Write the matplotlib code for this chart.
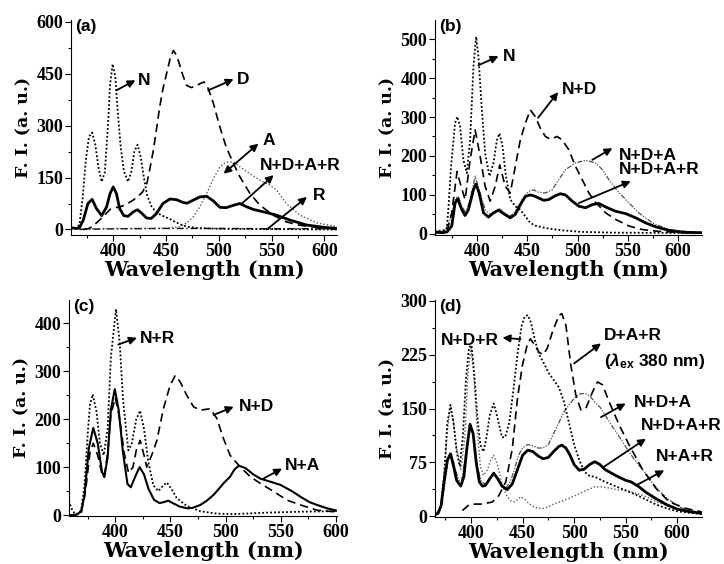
# Fluorescence spectra, four panels (a)-(d)
import numpy as np
import matplotlib
matplotlib.use('Agg')
import matplotlib.pyplot as plt
from matplotlib.ticker import MultipleLocator
from matplotlib.font_manager import FontProperties

# ---------------- data ----------------
# panel (a)
a_N_wl = [360, 365, 368, 371, 374, 377, 380, 383, 386, 389, 392, 395, 397, 399.5, 402, 404, 407, 410,
          414, 417, 420, 423, 426, 429, 432, 436, 440, 445, 450, 455, 460, 465, 470, 480, 500, 550, 612]
a_N = [4, 3, 15, 90, 200, 268, 280, 245, 180, 138, 165, 300, 420, 478, 440, 350, 240, 170,
       138, 165, 225, 245, 210, 150, 100, 68, 52, 42, 35, 28, 20, 13, 8, 4, 2, 1, 0]
a_D_wl = [372, 376, 380, 387, 392, 397, 402, 406, 412, 419, 425, 428, 432, 435, 438, 441, 444, 447,
          450.5, 454, 457, 460, 463, 466, 469.5, 474, 478, 482, 486, 490, 495, 501, 507, 514, 520,
          529.5, 539, 551.7, 564, 577, 593, 612]
a_D = [0, 2, 8, 27, 42, 58, 63, 65, 72, 85, 100, 109, 135, 180, 229, 290, 354, 405,
       450, 495, 517, 503, 475, 445, 416, 410, 413, 421, 426, 407, 363, 296, 238, 190, 152,
       104, 70, 41, 22, 12, 6, 3]
a_A_wl = [360, 440, 455, 463, 469.5, 476, 482, 488.5, 495, 501, 507, 514, 520, 529.5, 539, 548.5,
          555, 564, 577, 593, 612]
a_A = [2, 3, 5, 8, 19, 37, 65, 104, 147, 181, 195, 195, 181, 161, 142, 128, 113, 75, 41, 19, 8]
a_S_wl = [360, 365, 368, 371.6, 376, 380, 384, 389, 393.7, 397, 400, 403, 406, 410, 414, 419, 423,
          427, 431.6, 436, 441, 447, 453.7, 460, 466, 470, 476, 482, 488.5, 495, 501, 507, 514, 520,
          526, 532.7, 545, 555, 567.5, 583, 600, 612]
a_S = [5, 3, 5, 27, 75, 87, 61, 40, 65, 104, 123, 104, 61, 40, 38, 51, 57, 47, 33, 32, 46, 75, 88,
       86, 78, 76, 85, 94, 96, 82, 64, 63, 70, 75, 66, 58, 49, 41, 27, 13, 6, 3]
a_R_wl = [368, 380, 400, 450, 500, 550, 600, 612]
a_R = [0, 1, 2, 3, 3, 2, 2, 1]

# panel (b)
b_N_wl = [358, 361, 369.7, 371.5, 374, 378, 380.3, 383, 386.3, 389.7, 393, 396.3, 399, 401.3, 404.7,
          408, 412.3, 416.3, 419.7, 422.3, 425.3, 428.7, 433, 438, 443, 448, 453, 458, 468, 484.7,
          504.7, 538, 624]
b_N = [5, 7, 11, 70, 173, 284, 301, 276, 190, 156, 241, 429, 506, 455, 318, 207, 148, 182, 241, 258,
       224, 148, 88, 71, 62, 45, 28, 21, 15, 9, 5, 3, 2]
b_ND_wl = [358, 369.7, 374.7, 380, 384, 388, 393, 398, 403, 408, 413, 418, 422.5, 428, 433, 438, 443,
           448, 453, 458, 463, 468, 473, 479.7, 484.7, 491.3, 498, 504.7, 511.3, 518, 528, 538, 551.3,
           564.7, 578, 591, 624]
b_ND = [3, 3, 54, 160, 122, 88, 190, 267, 199, 122, 84, 122, 177, 122, 105, 173, 241, 284, 318, 301,
        271, 250, 243, 250, 241, 216, 173, 139, 105, 81, 54, 37, 20, 11, 7, 5, 2]
b_NDA_wl = [358, 368, 373, 378.7, 381.3, 384.7, 388.7, 393, 398, 403, 408, 413, 418, 422.3, 427.3,
            433, 438, 444.7, 451.3, 456.3, 461.3, 468, 474.7, 481.3, 488, 498, 508, 518, 524.7,
            531.3, 540, 548, 561, 574.7, 591, 618]
b_NDA = [3, 8, 37, 92, 96, 71, 54, 88, 148, 105, 62, 50, 54, 64, 54, 45, 58, 88, 109, 113, 107, 105,
         113, 139, 165, 182, 189, 182, 165, 139, 110, 88, 54, 28, 11, 4]
b_S_wl = [358, 365, 370, 374.7, 378, 380.7, 384.7, 388, 391.3, 396.3, 398.7, 402, 406.3, 411.3,
          416.3, 421.3, 426.3, 433, 438, 443, 448, 453, 458, 466.3, 471.3, 478, 483, 488, 494.7,
          501.3, 508, 514.7, 521.3, 528, 538, 548, 558, 568, 578, 591, 604.7, 624]
b_S = [5, 3, 5, 20, 79, 90, 62, 47, 62, 113, 128, 105, 54, 43, 54, 61, 52, 41, 50, 75, 96, 100, 96,
       86, 88, 98, 103, 100, 84, 71, 67, 75, 78, 69, 58, 52, 41, 28, 18, 9, 4, 3]

# panel (c)
c_NR_wl = [358, 360, 363, 366, 369, 372, 375, 377, 379.5, 383, 386, 389.5, 393, 396, 400.6, 404,
           407, 411.8, 415, 419, 422.5, 426, 430, 434.5, 439, 443.6, 446.7, 451, 455.8, 464.8, 477,
           492, 507, 537.6, 568, 598, 601]
c_NR = [30, 15, 3, 3, 10, 60, 170, 230, 252, 215, 150, 125, 180, 330, 430, 360, 240, 135, 150, 200,
        218, 180, 110, 62, 50, 62, 68, 54, 35, 19, 8, 3, 2, 5, 7, 8, 8]
c_ND_wl = [358, 365, 369, 373, 377, 380, 384, 388, 390, 393, 396, 400, 404, 408, 412, 416, 419,
           422.5, 426, 428.5, 433, 437.6, 443.6, 449.7, 454.2, 458.8, 464.8, 470.9, 477, 486, 492,
           498, 504, 513, 522.4, 531.5, 543.6, 555.8, 568, 583, 598, 601]
c_ND = [0, 0, 3, 50, 130, 150, 125, 85, 80, 130, 210, 245, 200, 130, 88, 100, 135, 156, 125, 100,
        125, 155, 222, 271, 291, 278, 250, 226, 219, 222, 202, 160, 125, 101, 80, 66, 49, 31, 21,
        10, 7, 6]
c_NA_wl = [358, 362, 366, 369, 372, 376, 380, 384, 388, 390, 393, 396, 399.5, 403, 407, 411, 414,
           418, 422, 426, 430, 435, 440, 444, 448, 452, 458, 465, 470, 477, 483, 489, 494, 498, 504,
           508, 512, 518, 525, 531.5, 540, 549.7, 560, 568, 576, 583, 592, 601]
c_NA = [0, 0, 2, 8, 40, 140, 182, 150, 90, 79, 120, 220, 263, 220, 130, 65, 58, 80, 100, 85, 55, 32,
        25, 27, 30, 25, 18, 14, 15, 21, 30, 42, 55, 66, 80, 95, 103, 98, 85, 76, 70, 63, 50, 38,
        27, 21, 14, 9]

# panel (d)
d_NDR_wl = [365, 368, 371, 374, 377, 380, 383, 386, 389, 392, 395, 398, 400.5, 403, 406, 409, 412,
            415, 418, 422, 426, 430, 433, 437, 441, 445, 449, 452, 455, 458, 462, 466, 470, 475,
            480, 485, 490, 495, 500, 505, 510, 515, 520, 530, 540, 550, 560, 570, 580, 590, 600,
            610, 624]
d_NDR = [2, 5, 15, 60, 130, 155, 130, 90, 70, 110, 190, 235, 238, 200, 140, 100, 90, 110, 140, 157,
         135, 110, 110, 130, 175, 225, 265, 278, 280, 270, 245, 225, 215, 200, 190, 180, 160, 130,
         100, 78, 62, 56, 55, 48, 42, 36, 30, 23, 16, 11, 7, 5, 3]
d_DAR_wl = [391.6, 398, 404, 411, 420.7, 427, 433.7, 440, 445, 449.8, 454.7, 457.5, 461, 466, 470,
            474, 479, 485.4, 488, 492, 496.8, 501.6, 506.5, 511.3, 517.8, 522.6, 527.5, 534, 543.7,
            553.4, 566, 579.3, 592.2, 608.4, 624]
d_DAR = [8, 16, 17, 17, 20, 29, 48, 94, 164, 210, 240, 247, 240, 228, 225, 234, 257, 280, 282, 266,
         210, 169, 148, 150, 173, 187, 183, 159, 127, 99, 66, 39, 20, 11, 6]
d_NDA_wl = [365, 370, 374, 378, 381, 384, 388, 391, 395, 399, 402, 406, 410, 414, 418, 422, 426, 430,
            434, 438, 442, 446, 450, 455, 460, 465, 470, 475, 480, 485, 490, 495, 500, 505, 510, 515,
            520, 525, 530, 537, 545, 552, 560, 568, 575, 582, 590, 598, 605, 612, 624]
d_NDA = [2, 10, 40, 80, 88, 70, 50, 50, 90, 130, 115, 70, 48, 45, 52, 60, 52, 42, 40, 48, 65, 85,
         95, 100, 98, 95, 95, 100, 115, 130, 145, 155, 164, 170, 171, 168, 159, 152, 141, 125, 108,
         92, 76, 62, 48, 36, 25, 17, 11, 8, 5]
d_NAR_wl = [365, 370, 374, 377, 380, 383, 386, 390, 394, 397, 400, 403, 406, 409, 412, 416, 419, 422,
            426, 430, 434, 438, 442, 445, 448, 452, 456, 460, 465, 470, 475, 480, 490, 500, 510, 520,
            528, 535, 542, 550, 558, 565, 572, 580, 590, 600, 612, 624]
d_NAR = [2, 10, 60, 120, 152, 130, 95, 65, 110, 200, 235, 190, 120, 70, 57, 65, 78, 85, 70, 45, 30,
         22, 20, 23, 27, 24, 18, 14, 11, 11, 13, 17, 22, 28, 35, 41, 41, 39, 37, 36, 33, 30, 26, 20,
         15, 10, 6, 4]
d_S_wl = [365, 368, 371, 374, 377, 380, 383, 386, 390, 393, 396, 399, 402, 405, 408, 411, 414, 418,
          422, 426, 430, 435, 440, 445, 450, 455, 460, 465, 470, 475, 480, 485, 488, 492, 496, 500,
          505, 510, 515, 520, 525, 530, 540, 550, 555, 562, 570, 580, 590, 600, 610, 624]
d_S = [2, 4, 15, 50, 78, 87, 70, 50, 42, 55, 95, 128, 115, 75, 48, 42, 43, 52, 60, 52, 42, 37, 45,
       65, 85, 92, 90, 84, 80, 82, 90, 97, 99, 95, 85, 72, 64, 66, 72, 76, 72, 65, 57, 50, 48, 42,
       33, 24, 16, 10, 7, 4]

# ---------------- styles ----------------
plt.rcParams['mathtext.fontset'] = 'custom'
plt.rcParams['mathtext.rm'] = 'Liberation Sans:bold'
plt.rcParams['mathtext.it'] = 'Liberation Sans:italic:bold'

tickfont = FontProperties(family='Liberation Serif', weight='bold', size=13)
xlabfont = dict(family='DejaVu Serif', weight='bold', size=15)
ylabfont = dict(family='DejaVu Serif', weight='bold', size=12.5)
annfont = dict(family='Liberation Sans', weight='bold', size=12.5)

dense_dot = dict(color='k', lw=1.3, linestyle=(0, (1, 1.2)))
dashed = dict(color='k', lw=1.2, linestyle=(0, (5, 3)))
solid = dict(color='k', lw=2.0, linestyle='-')
grey_dot = dict(color='0.35', lw=1.0, linestyle=(0, (1, 1.5)))
grey_dd = dict(color='0.3', lw=0.9, linestyle=(0, (4, 1.2, 1, 1.2, 1, 1.2)))
dashdot = dict(color='k', lw=1.0, linestyle=(0, (5, 2, 1, 2)))


def setup(ax, xlim, ylim, ymaj, tag):
    ax.set_xlim(xlim)
    ax.set_ylim(ylim)
    ax.spines['top'].set_visible(False)
    ax.spines['right'].set_visible(False)
    ax.xaxis.set_major_locator(MultipleLocator(50))
    ax.xaxis.set_minor_locator(MultipleLocator(25))
    ax.yaxis.set_major_locator(MultipleLocator(ymaj))
    ax.yaxis.set_minor_locator(MultipleLocator(ymaj / 2))
    ax.tick_params(which='both', direction='out', width=0.8)
    ax.tick_params(which='major', length=4, pad=1.5)
    ax.tick_params(which='minor', length=2.5)
    for lab in ax.get_xticklabels() + ax.get_yticklabels():
        lab.set_fontproperties(tickfont)
    ax.set_xlabel('Wavelength (nm)', fontdict=xlabfont, labelpad=0)
    ax.set_ylabel('F. I. (a. u.)', fontdict=ylabfont, labelpad=3)
    ax.text(0.015, 0.97, tag, transform=ax.transAxes, ha='left', va='center', **annfont)


def arrow(ax, tail, head, text, tx, ty, both=False, ha='left'):
    ax.annotate('', xy=head, xytext=tail,
                arrowprops=dict(arrowstyle='<|-|>' if both else '-|>', color='k', lw=1.3,
                                mutation_scale=11, shrinkA=0, shrinkB=0))
    ax.text(tx, ty, text, ha=ha, va='center', **annfont)


fig = plt.figure(figsize=(7.24, 5.64), dpi=100)

# ---------- (a) ----------
ax = fig.add_axes([0.0981, 0.5833, 0.3674, 0.3812])
ax.plot(a_R_wl, a_R, **dashdot)
ax.plot(a_A_wl, a_A, **grey_dot)
ax.plot(a_D_wl, a_D, **dashed)
ax.plot(a_N_wl, a_N, **dense_dot)
ax.plot(a_S_wl, a_S, **solid)
setup(ax, (360, 612), (-16, 605), 150, '(a)')
arrow(ax, (403, 402), (421, 431), 'N', 423.5, 431)
arrow(ax, (490, 402), (514, 434), 'D', 517.5, 433)
arrow(ax, (504.5, 161), (537.5, 248), 'A', 541, 256, both=True)
arrow(ax, (522, 75), (552, 157), 'N+D+A+R', 539, 186)
arrow(ax, (545.5, 0), (583.5, 94), 'R', 589.5, 99)

# ---------- (b) ----------
ax = fig.add_axes([0.6008, 0.5833, 0.3688, 0.3812])
ax.plot(b_NDA_wl, b_NDA, **grey_dd)
ax.plot(b_ND_wl, b_ND, **dashed)
ax.plot(b_N_wl, b_N, **dense_dot)
ax.plot(b_S_wl, b_S, **solid)
setup(ax, (358, 624), (-3, 549), 100, '(b)')
arrow(ax, (401.3, 433), (421.3, 456), 'N', 426, 456)
arrow(ax, (460.7, 298), (480.7, 364), 'N+D', 484.7, 371)
arrow(ax, (514.7, 190), (534.7, 220), 'N+D+A', 541.3, 200.5)
arrow(ax, (501.3, 79), (553, 135), 'N+D+A+R', 541.3, 165)

# ---------- (c) ----------
ax = fig.add_axes([0.0953, 0.0851, 0.3702, 0.383])
ax.plot(c_ND_wl, c_ND, **dashed)
ax.plot(c_NR_wl, c_NR, **dense_dot)
ax.plot(c_NA_wl, c_NA, color='k', lw=1.5)
setup(ax, (358, 601), (-2, 449), 100, '(c)')
arrow(ax, (402.7, 356), (419.5, 370), 'N+R', 422.5, 368)
arrow(ax, (489, 209), (507.3, 226), 'N+D', 511.8, 226)
arrow(ax, (534.5, 76.5), (551.2, 97), 'N+A', 554, 104)

# ---------- (d) ----------
ax = fig.add_axes([0.6008, 0.0833, 0.3688, 0.3848])
ax.plot(d_NAR_wl, d_NAR, **grey_dot)
ax.plot(d_NDA_wl, d_NDA, **grey_dd)
ax.plot(d_DAR_wl, d_DAR, **dashed)
ax.plot(d_NDR_wl, d_NDR, **dense_dot)
ax.plot(d_S_wl, d_S, **solid)
setup(ax, (365, 624), (-1, 301), 75, '(d)')
arrow(ax, (448, 246.5), (430.5, 248.5), 'N+D+R', 427, 244, ha='right')
arrow(ax, (500, 212.7), (526, 240.6), 'D+A+R', 529, 252)
ax.text(529, 216, r'($\lambda_{\mathrm{ex}}$ 380 nm)', ha='left', va='center', **annfont)
arrow(ax, (526, 138), (550, 157), 'N+D+A', 558.3, 159)
arrow(ax, (529, 69), (569.6, 108), 'N+D+A+R', 564.7, 126)
arrow(ax, (560, 43), (587.4, 64), 'N+A+R', 579.3, 83)

fig.savefig('out.png', dpi=100)
